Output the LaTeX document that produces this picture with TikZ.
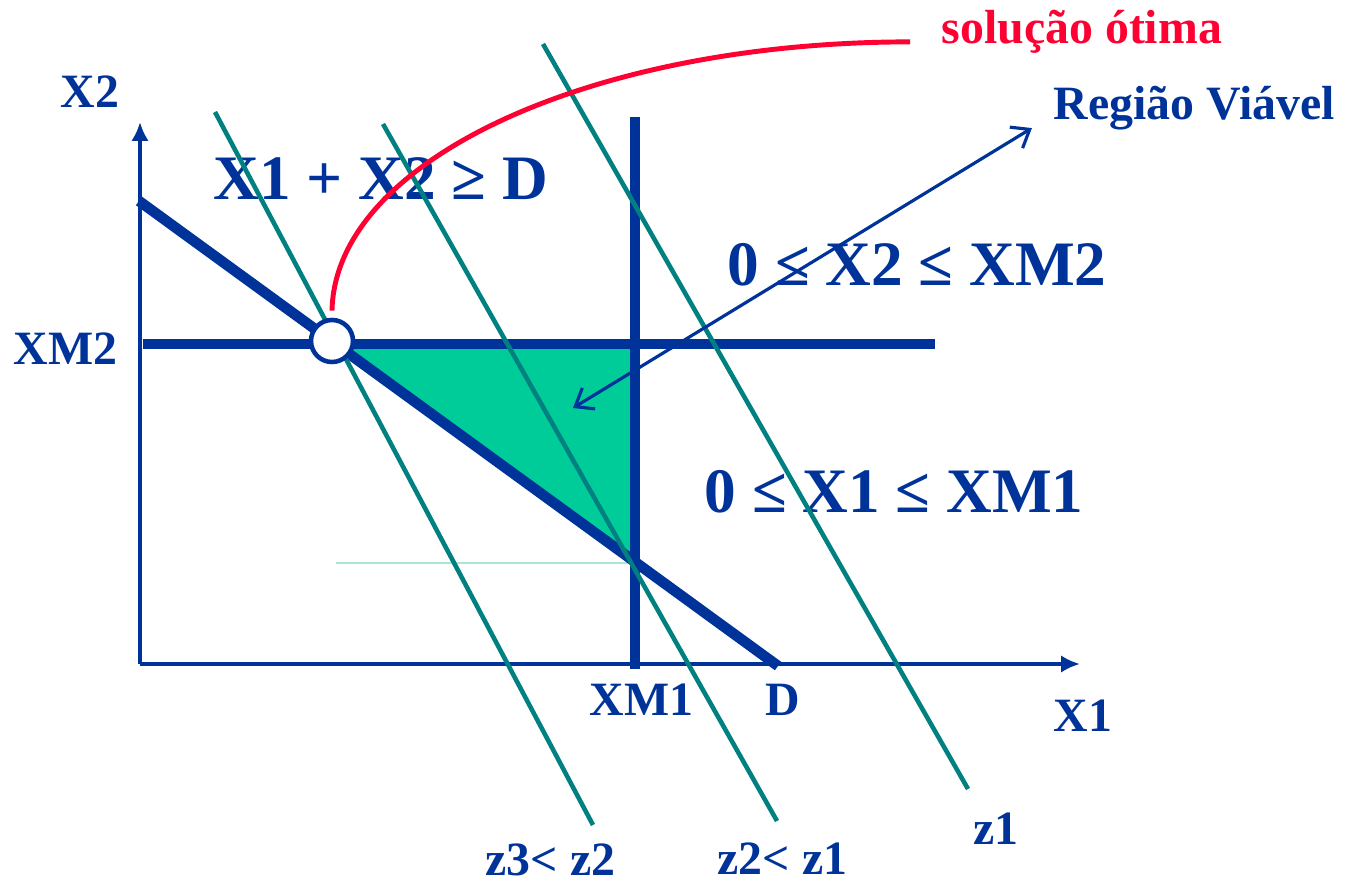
\documentclass[tikz,border=0pt]{standalone}
\usepackage{fontspec}
\setmainfont{Liberation Serif}
\usetikzlibrary{arrows.meta}
\definecolor{lpblue}{RGB}{0,51,153}
\definecolor{lpred}{RGB}{255,0,51}
\definecolor{lpteal}{RGB}{0,128,128}
\definecolor{lpgreen}{RGB}{0,204,153}
\definecolor{lplight}{RGB}{170,230,210}

\begin{document}
\begin{tikzpicture}[
    x=0.01cm, y=-0.01cm,
    axis/.style={draw=lpblue, line width=1.3pt, -{Latex[length=5.4pt, width=5pt]}},
    bound/.style={draw=lpblue, line width=2.8pt},
    isoline/.style={draw=lpteal, line width=1.3pt},
    lbl/.style={font=\fontsize{13.6}{15}\selectfont\bfseries, text=lpblue, inner sep=0pt, anchor=base west},
    big/.style={lbl, font=\fontsize{18}{20}\selectfont\bfseries},
    optpt/.style={circle, draw=lpblue, fill=white, line width=1.3pt, inner sep=0pt, minimum size=0.42cm},
    optcurve/.style={draw=lpred, line width=1.4pt},
    pointer/.style={draw=lpblue, line width=0.9pt, {Straight Barb[length=4.5pt, width=7pt]}-{Straight Barb[length=4.5pt, width=7pt]}},
]
\useasboundingbox (0,0) rectangle (1345,883);

% Feasible region
\fill[lpgreen] (332,344) -- (634,344) -- (634,563) -- cycle;
\draw[lplight, line width=0.3pt] (336,563) -- (630,563);

% Axis and bound labels
\node[lbl] (x2) at (60,108) {X2};
\node[lbl] (xm2) at (13,365) {XM2};
\node[lbl] (xm1) at (589,716) {XM1};
\node[lbl] (dd) at (765,716) {D};
\node[lbl] (x1) at (1053,732) {X1};

% Constraints
\node[big] (csum) at (213,200) {X1 + X2 ≥ D};
\node[big] (cx2) at (727,286) {0 ≤ X2 ≤ XM2};
\node[big] (cx1) at (704,513) {0 ≤ X1 ≤ XM1};

% Axes
\coordinate (origin) at (140,664);
\draw[axis] (origin) -- (140,122) coordinate (ytip);
\draw[axis] (origin) -- (1080,664) coordinate (xtip);

% Bounds
\draw[bound] (143,344) -- (935,344);
\draw[bound] (635,117) -- (635,669);
\draw[bound, line width=3pt] (139,201) -- (778,666);

% Objective lines
\foreach \z/\xa/\ya/\xb/\yb in {z3/215/112/593/825, z2/383/124/777/821, z1/543/44/968/789} {
    \draw[isoline] (\xa,\ya) coordinate (\z_top) -- (\xb,\yb) coordinate (\z_bot);
}
\node[lbl] (lz3) at (485,876) {z3< z2};
\node[lbl] (lz2) at (717,875) {z2< z1};
\node[lbl] (lz1) at (973,845) {z1};

% Optimum
\node[optpt] (opt) at (332,341) {};
\node[lbl, text=lpred] (sol) at (941,44) {solução ótima};
\draw[optcurve] ([yshift=2pt]opt.north) .. controls (335,160) and (592,42) .. ([xshift=-8.8pt, yshift=0.6pt]sol.base west);

% Feasible region label
\node[lbl] (rv) at (1053,120) {Região Viável};
\coordinate (feas) at (573,408);
\draw[pointer] (feas) -- ([xshift=-6pt, yshift=-2.3pt]rv.base west);

\end{tikzpicture}
\end{document}
